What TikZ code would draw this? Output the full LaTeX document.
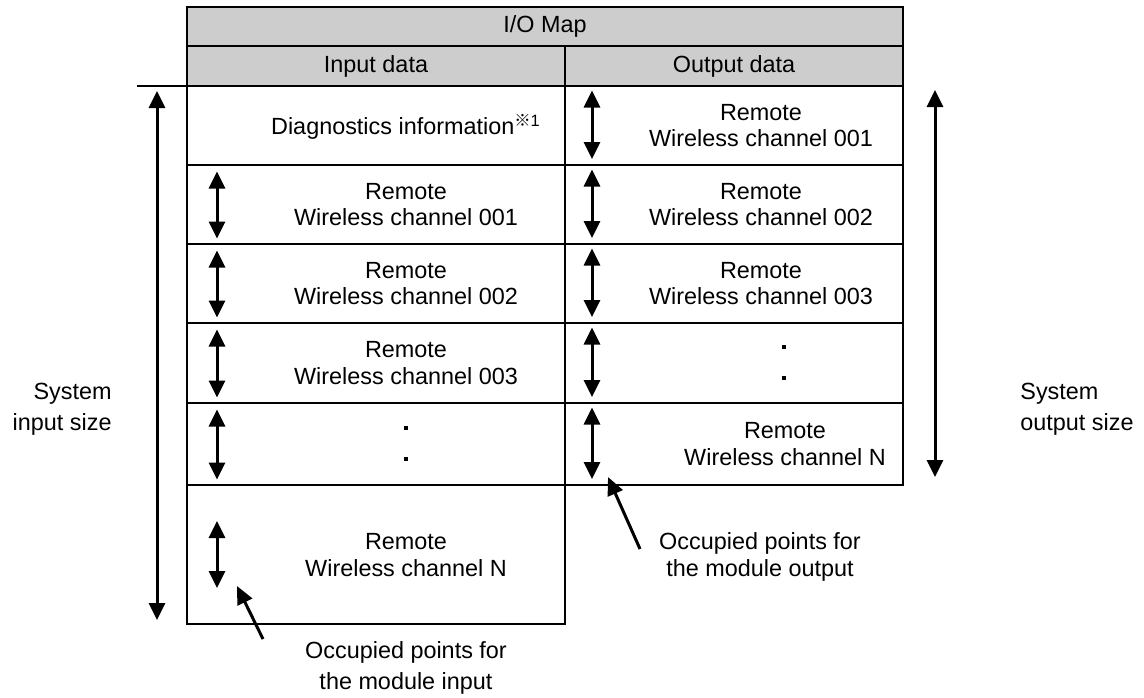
\documentclass[tikz,border=0pt]{standalone}
\usepackage{fontspec}
\setmainfont{Liberation Sans}
\newfontfamily\cjkfont{Noto Sans CJK JP}
\usetikzlibrary{arrows.meta}
\definecolor{hdrgray}{RGB}{205,205,205}
\begin{document}
\begin{tikzpicture}[x=0.5pt,y=-0.5pt,
  font=\fontsize{11.7}{13.4}\selectfont,
  grid/.style={line width=1pt},
  hdrcell/.style={grid,fill=hdrgray},
  tip/.tip={Triangle[width=8pt,length=8.5pt]},
  dbl/.style={line width=1.5pt,tip-tip},
  sgl/.style={line width=1.5pt,-tip},
  ptr/.style={line width=1.5pt,-{Triangle[width=8pt,length=9pt]}},
  cell/.style={align=center,inner sep=0pt},
  dotmark/.style={fill=black}]
\useasboundingbox (0,0) rectangle (1144,697);
% header
\draw[hdrcell] (187,7) rectangle (903,46);
\draw[hdrcell] (187,46) rectangle (565,86);
\draw[hdrcell] (565,46) rectangle (903,86);
\node[cell] (map) at (545,26.5) {I/O Map};
\node[cell] (inhdr) at (376,66) {Input data};
\node[cell] (outhdr) at (734,66) {Output data};
% input column cells
\draw[grid] (187,86) rectangle (565,165);
\draw[grid] (187,165) rectangle (565,244);
\draw[grid] (187,244) rectangle (565,323);
\draw[grid] (187,323) rectangle (565,403);
\draw[grid] (187,403) rectangle (565,485);
\draw[grid] (187,485) rectangle (565,624);
% output column cells
\draw[grid] (565,86) rectangle (903,165);
\draw[grid] (565,165) rectangle (903,244);
\draw[grid] (565,244) rectangle (903,323);
\draw[grid] (565,323) rectangle (903,403);
\draw[grid] (565,403) rectangle (903,485);
% left rule
\draw[grid] (137,86) -- (187,86);
% input texts
\node[cell] (diag) at (406,127) {Diagnostics information\textsuperscript{{\cjkfont ※}1}};
\node[cell] (in1) at (406,204.5) {Remote\\Wireless channel 001};
\node[cell] (in2) at (406,283.5) {Remote\\Wireless channel 002};
\node[cell] (in3) at (406,363) {Remote\\Wireless channel 003};
\node[cell] (inN) at (406,555) {Remote\\Wireless channel N};
\fill[dotmark] (404,426) rectangle (408,430);
\fill[dotmark] (404,457) rectangle (408,461);
% output texts
\node[cell] (out1) at (761,125.5) {Remote\\Wireless channel 001};
\node[cell] (out2) at (761,204.5) {Remote\\Wireless channel 002};
\node[cell] (out3) at (761,283.5) {Remote\\Wireless channel 003};
\node[cell] (outN) at (785,444) {Remote\\Wireless channel N};
\fill[dotmark] (782,345) rectangle (786,349);
\fill[dotmark] (782,376) rectangle (786,380);
% small double arrows, input column
\foreach \a/\b in {165/244,244/323,323/403,403/485}{
  \coordinate (ia) at (217,\a+6.5);
  \coordinate (ib) at (217,\b-5.5);
  \draw[dbl] (ia) -- (ib);
}
\coordinate (iNa) at (217,521);
\coordinate (iNb) at (217,588);
\draw[dbl] (iNa) -- (iNb);
% small double arrows, output column
\foreach \a/\b in {86/165,165/244,244/323,323/403,403/485}{
  \coordinate (oa) at (592,\a+4.5);
  \coordinate (ob) at (592,\b-6);
  \draw[dbl] (oa) -- (ob);
}
% big arrows
\coordinate (lt) at (157,91);
\coordinate (lb) at (157,620);
\draw[dbl] (lt) -- (lb);
\coordinate (rt) at (935,90);
\coordinate (rb) at (935,477);
\draw[dbl] (rt) -- (rb);
% side labels
\node[cell,anchor=east,align=right,font=\fontsize{11.7}{15.5}\selectfont] (insize) at (112,409) {System\\input size};
\node[cell,anchor=west,align=left,font=\fontsize{11.7}{15.5}\selectfont] (outsize) at (1020,409) {System\\output size};
% pointer labels
\node[cell,font=\fontsize{11.7}{15.5}\selectfont] (inocc) at (406,668) {Occupied points for\\the module input};
\node[cell] (outocc) at (760,557) {Occupied points for\\the module output};
\coordinate (pin) at (263,639);
\coordinate (pint) at (237,586);
\draw[ptr] (pin) -- (pint);
\coordinate (pout) at (640,549);
\coordinate (poutt) at (608,477);
\draw[ptr] (pout) -- (poutt);
\end{tikzpicture}
\end{document}
